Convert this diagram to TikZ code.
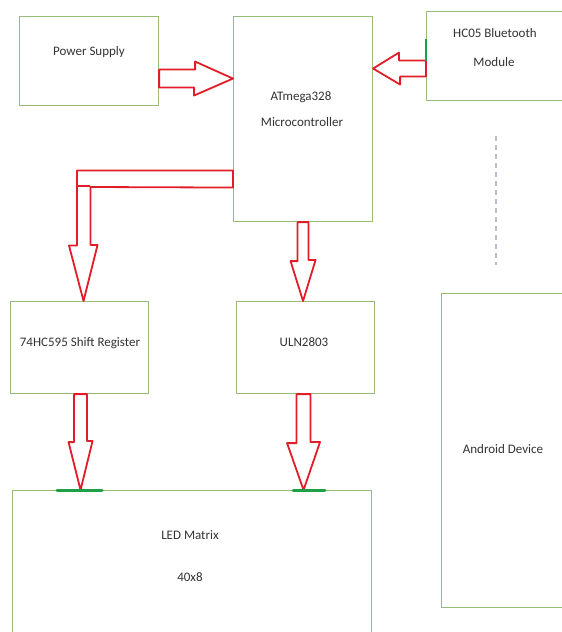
\documentclass[tikz,border=0pt]{standalone}
\usepackage{fontspec}
\setmainfont{Carlito}
\usetikzlibrary{calc}
\definecolor{boxgreen}{RGB}{150,188,120}
\definecolor{arrowred}{RGB}{225,30,40}
\definecolor{markgreen}{RGB}{30,160,70}
\definecolor{dashgrey}{RGB}{185,188,205}
\begin{document}
\begin{tikzpicture}[x=1pt,y=-1pt,
  box/.style={draw=boxgreen, line width=1.1pt, inner sep=0pt, anchor=north west},
  lbl/.style={font=\fontsize{13}{15}\selectfont, text=black!80, inner sep=0pt},
  barrow/.style={draw=arrowred, line width=1.8pt, fill=white, line join=round},
  gmark/.style={draw=markgreen, line width=3pt, line cap=round},
  ]
\useasboundingbox (0,0) rectangle (562,632);
\fill[white] (0,0) rectangle (562,632);
\clip (0,0) rectangle (562,632);

% boxes
\node[box, minimum width=139pt, minimum height=89pt]  (ps)  at (19,16)  {};
\node[box, minimum width=139pt, minimum height=205pt] (atm) at (233,16) {};
\node[box, minimum width=200pt, minimum height=89pt]  (hc)  at (426,11) {};
\node[box, minimum width=200pt, minimum height=314pt] (and) at (441,293) {};
\node[box, minimum width=138pt, minimum height=92pt]  (sr)  at (10,301) {};
\node[box, minimum width=138pt, minimum height=92pt]  (uln) at (236,301) {};
\node[box, minimum width=359pt, minimum height=200pt] (led) at (12,490) {};

% labels
\node[lbl] (tps)   at (89,52)   {Power Supply};
\node[lbl] (tatm1) at (301,97)  {ATmega328};
\node[lbl] (tatm2) at (302,122) {Microcontroller};
\node[lbl] (thc1)  at (495,33)  {HC05 Bluetooth};
\node[lbl] (thc2)  at (494,62)  {Module};
\node[lbl] (tsr)   at (80,343)  {74HC595 Shift Register};
\node[lbl] (tuln)  at (304,342) {ULN2803};
\node[lbl] (tand)  at (503,449) {Android Device};
\node[lbl] (tled1) at (190,535) {LED Matrix};
\node[lbl] (tled2) at (190,577) {40x8};

% dashed link
\draw[dashgrey, line width=1.5pt, dash pattern=on 5pt off 4pt]
  ($(hc.south west)+(70,35)$) -- ($(and.north west)+(55,-28)$);

% Power Supply -> ATmega
\coordinate (p0) at ($(ps.east)+(0,17.5)$);
\coordinate (p1) at ($(atm.west)+(0,-40.5)$);
\draw[barrow] ($(p0)+(0,-9)$) -- ++(36,0) -- ++(0,-8) -- (p1) -- ++(-39,17) -- ++(0,-8) -- ($(p0)+(0,9)$) -- cycle;

% HC05 -> ATmega
\coordinate (h0) at ($(hc.west)+(0,12.5)$);
\coordinate (h1) at ($(atm.east)+(0,-50.5)$);
\draw[barrow] ($(h0)+(0,-8)$) -- ++(-27,0) -- ++(0,-8) -- (h1) -- ++(27,16) -- ++(0,-8) -- ($(h0)+(0,8)$) -- cycle;
\draw[markgreen, line width=2pt] ($(hc.north west)+(0,28)$) -- ++(0,22);

% ATmega -> 74HC595 (elbow)
\coordinate (e0) at ($(atm.west)+(0,60)$);
\coordinate (e1) at ($(sr.north)+(4,0)$);
\draw[barrow] ($(e0)+(0,-8.5)$) -- ++(-156,0) -- ++(0,75) -- ++(-8,0) -- (e1) -- ++(14,-56) -- ++(-7,0) -- ++(0,-58) -- ($(e0)+(0,8.5)$) -- cycle;
\draw[arrowred, line width=1.8pt] ($(e0)+(-156,7)$) -- ++(13,0);

% ATmega -> ULN2803
\coordinate (u0) at ($(atm.south)+(0,0)$);
\coordinate (u1) at ($(uln.north)+(-2.5,0)$);
\draw[barrow] ($(u0)+(-5.5,0)$) -- ++(0,39) -- ++(-7,0) -- (u1) -- ++(12.5,-41) -- ++(-7,0) -- ($(u0)+(5.5,0)$) -- cycle;

% 74HC595 -> LED
\coordinate (s0) at ($(sr.south)+(1,0)$);
\coordinate (s1) at (s0 |- led.north);
\draw[barrow] ($(s0)+(-6.5,0)$) -- ++(0,48) -- ++(-5.5,0) -- (s1) -- ++(12,-49) -- ++(-5.5,0) -- ($(s0)+(6.5,0)$) -- cycle;

% ULN2803 -> LED
\coordinate (v0) at ($(uln.south)+(-2,0)$);
\coordinate (v1) at (v0 |- led.north);
\draw[barrow] ($(v0)+(-7,0)$) -- ++(0,49) -- ++(-9.5,0) -- (v1) -- ++(16.5,-48) -- ++(-9.5,0) -- ($(v0)+(7,0)$) -- cycle;

% green marks on LED matrix
\draw[gmark] ($(led.north west)+(45,0)$) -- ++(45,0);
\draw[gmark] ($(led.north west)+(281,0)$) -- ++(32,0);
\end{tikzpicture}
\end{document}
